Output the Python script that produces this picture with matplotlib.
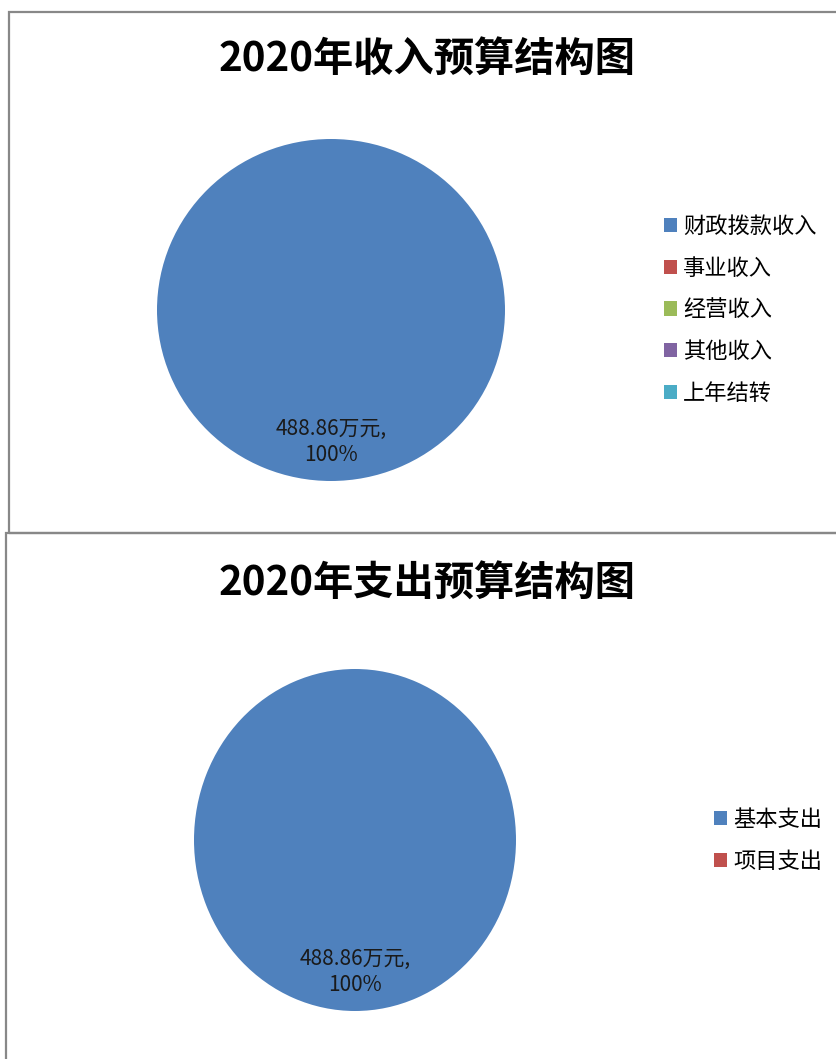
import matplotlib.pyplot as plt
from matplotlib.patches import Rectangle

plt.rcParams["font.family"] = ["Noto Sans CJK SC", "DejaVu Sans"]

# ==============================================================================
# DADOS
# ==============================================================================
titulo_receita = "2020年收入预算结构图"
categorias_receita = ["财政拨款收入", "事业收入", "经营收入", "其他收入", "上年结转"]
valores_receita = [488.86, 0, 0, 0, 0]

titulo_despesa = "2020年支出预算结构图"
categorias_despesa = ["基本支出", "项目支出"]
valores_despesa = [488.86, 0]

cores = ["#4F81BD", "#C0504D", "#9BBB59", "#8064A2", "#4BACC6"]

W, H = 837, 1059


def caixa(px_left, px_top, px_w, px_h):
    """Converte pixels (origem no topo) para coordenadas da figura."""
    return [px_left / W, 1 - (px_top + px_h) / H, px_w / W, px_h / H]


def rotulo(valores):
    total = sum(valores)

    def fmt(pct):
        val = pct * total / 100
        if val <= 0:
            return ""
        return f"{val:.2f}万元,\n{pct:.0f}%"

    return fmt


def pizza(fig, valores, categorias, centro, rx, ry, leg_pos):
    ax = fig.add_axes(caixa(centro[0] - rx, centro[1] - ry, 2 * rx, 2 * ry))
    wedges, _, autotexts = ax.pie(
        valores,
        colors=cores[: len(valores)],
        startangle=90,
        autopct=rotulo(valores),
        pctdistance=0.77,
        wedgeprops=dict(linewidth=0),
        textprops=dict(fontsize=15, color="#1a1a1a"),
    )
    for t in autotexts:
        t.set_linespacing(1.25)
    ax.set_aspect("auto")
    ax.set_xlim(-1, 1)
    ax.set_ylim(-1, 1)
    fig.legend(
        wedges,
        categorias,
        loc="upper left",
        bbox_to_anchor=(leg_pos[0] / W, 1 - leg_pos[1] / H),
        frameon=False,
        fontsize=16,
        handlelength=0.6,
        handleheight=0.6,
        handletextpad=0.25,
        labelspacing=0.84,
        borderaxespad=0,
        borderpad=0,
    )
    return ax


fig = plt.figure(figsize=(W / 100, H / 100), dpi=100)

# Bordas dos painéis
fig.patches.append(
    Rectangle((9 / W, 1 - 533 / H), 840 / W, 521 / H, transform=fig.transFigure,
              fill=False, edgecolor="#888888", linewidth=1.6)
)
fig.patches.append(
    Rectangle((6 / W, -10 / H), 840 / W, (1059 - 533 + 10) / H, transform=fig.transFigure,
              fill=False, edgecolor="#888888", linewidth=1.6)
)

# Painel superior
fig.text(427 / W, 1 - 60 / H, titulo_receita, ha="center", va="center",
         fontsize=29, fontweight="bold")
pizza(fig, valores_receita, categorias_receita, (331, 310), 174, 171, (664, 215))

# Painel inferior
fig.text(427 / W, 1 - 584 / H, titulo_despesa, ha="center", va="center",
         fontsize=29, fontweight="bold")
pizza(fig, valores_despesa, categorias_despesa, (355, 840), 161, 171, (714, 808))

fig.savefig("out.png", dpi=100)
